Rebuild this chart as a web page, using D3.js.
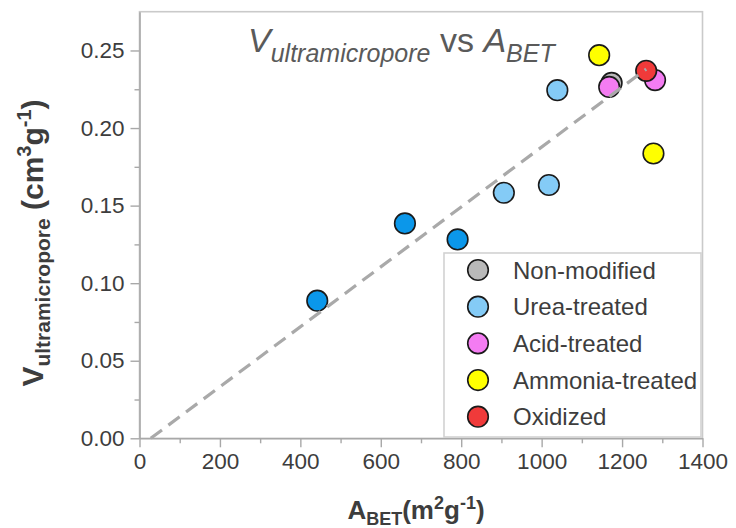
<!DOCTYPE html>
<html>
<head>
<meta charset="utf-8">
<script src="https://cdn.jsdelivr.net/npm/d3@7"></script>
<style>
  html, body { margin: 0; padding: 0; background: #fff; }
  svg { display: block; font-family: "Liberation Sans", Arial, Helvetica, sans-serif; }
</style>
</head>
<body>
<svg id="chart" width="736" height="528"></svg>
<script>
// Surface area (A_BET, m2/g) vs ultramicropore volume (cm3/g)
const groups = ["Non-modified", "Urea-treated", "Acid-treated", "Ammonia-treated", "Oxidized"];
const groupColors = ["#b9b9b9", "#84cbf6", "#f47cf2", "#ffff00", "#f03a3a"];

const ureaLowA = [442, 660, 791];
const ureaLowV = [0.0887, 0.1385, 0.1282];
const ureaLowColor = "#0b97ea";

const nonModifiedA = [1174];
const nonModifiedV = [0.2291];
const ureaA = [906, 1018, 1039];
const ureaV = [0.1583, 0.1633, 0.2244];
const acidA = [1168, 1282];
const acidV = [0.2265, 0.2309];
const ammoniaA = [1143, 1278];
const ammoniaV = [0.2470, 0.1836];
const oxidizedA = [1260];
const oxidizedV = [0.2369];

const trendA = [28, 1260];
const trendV = [0, 0.2380];

const xTicks = [0, 200, 400, 600, 800, 1000, 1200, 1400];
const yTicks = [0, 0.05, 0.10, 0.15, 0.20, 0.25];

const svg = d3.select("#chart");
const plot = { left: 139.5, right: 702.5, top: 11.7, bottom: 438.3 };

const x = d3.scaleLinear().domain([0, 1400]).range([plot.left, plot.right]);
const y = d3.scaleLinear().domain([0, 0.275]).range([plot.bottom, plot.top]);

const axisColor = "#a8a8a8";
const textColor = "#3d3d3d";

// plot frame
svg.append("rect")
  .attr("x", plot.left).attr("y", plot.top)
  .attr("width", plot.right - plot.left).attr("height", plot.bottom - plot.top)
  .attr("fill", "none").attr("stroke", "#cacaca").attr("stroke-width", 1.6);

// minor ticks
const xMinor = d3.range(100, 1400, 200);
const yMinor = d3.range(0.025, 0.275, 0.05);
svg.append("g").attr("transform", `translate(0,${plot.bottom})`)
  .call(d3.axisBottom(x).tickValues(xMinor).tickSize(5).tickFormat(""))
  .call(g => g.select(".domain").remove())
  .call(g => g.selectAll("line").attr("stroke", axisColor).attr("stroke-width", 1.4));
svg.append("g").attr("transform", `translate(${plot.left},0)`)
  .call(d3.axisLeft(y).tickValues(yMinor).tickSize(5).tickFormat(""))
  .call(g => g.select(".domain").remove())
  .call(g => g.selectAll("line").attr("stroke", axisColor).attr("stroke-width", 1.4));

// major axes
const xAxis = svg.append("g").attr("transform", `translate(0,${plot.bottom})`)
  .call(d3.axisBottom(x).tickValues(xTicks).tickSize(9).tickPadding(6).tickSizeOuter(0).tickFormat(d3.format("d")));
const yAxis = svg.append("g").attr("transform", `translate(${plot.left},0)`)
  .call(d3.axisLeft(y).tickValues(yTicks).tickSize(9).tickPadding(6).tickSizeOuter(0).tickFormat(d3.format(".2f")));
[xAxis, yAxis].forEach(g => {
  g.select(".domain").attr("stroke", axisColor).attr("stroke-width", 1.6);
  g.selectAll(".tick line").attr("stroke", axisColor).attr("stroke-width", 1.4);
  g.selectAll(".tick text").attr("fill", textColor).attr("font-size", 22.5)
    .attr("font-family", "Liberation Sans, Arial, sans-serif");
});

// scatter points, drawn back to front
const series = [
  { a: ureaLowA, v: ureaLowV, color: ureaLowColor },
  { a: ureaA, v: ureaV, color: groupColors[1] },
  { a: ammoniaA, v: ammoniaV, color: groupColors[3] },
  { a: nonModifiedA, v: nonModifiedV, color: groupColors[0] },
  { a: acidA, v: acidV, color: groupColors[2] },
  { a: oxidizedA, v: oxidizedV, color: groupColors[4] }
];
const r = 10.3;
series.forEach(s => {
  svg.append("g").selectAll("circle")
    .data(s.a.map((a, i) => ({ a, v: s.v[i] })))
    .join("circle")
    .attr("cx", d => x(d.a)).attr("cy", d => y(d.v)).attr("r", r)
    .attr("fill", s.color).attr("stroke", "#1a1a1a").attr("stroke-width", 1.6);
});

// linear guide
svg.append("path")
  .datum(trendA.map((a, i) => [a, trendV[i]]))
  .attr("d", d3.line().x(d => x(d[0])).y(d => y(d[1])))
  .attr("fill", "none").attr("stroke", "#a9a9a9").attr("stroke-width", 3.2)
  .attr("stroke-dasharray", "14,8");

// legend
const legend = svg.append("g");
legend.append("rect")
  .attr("x", 444).attr("y", 253).attr("width", 257).attr("height", 184)
  .attr("fill", "#fff").attr("stroke", "#d2d2d2").attr("stroke-width", 1.6);
const rowY = d3.scalePoint().domain(groups).range([270, 416.7]);
groups.forEach((gname, i) => {
  legend.append("circle")
    .attr("cx", 478).attr("cy", rowY(gname)).attr("r", r)
    .attr("fill", groupColors[i]).attr("stroke", "#1a1a1a").attr("stroke-width", 1.6);
  legend.append("text")
    .attr("x", 513).attr("y", rowY(gname)).attr("dy", "0.36em")
    .attr("font-size", 24).attr("fill", textColor).text(gname);
});

// title
const title = svg.append("text").attr("x", 248).attr("y", 52)
  .attr("fill", "#5a5a5a").attr("font-size", 34);
title.append("tspan").attr("font-style", "italic").text("V");
title.append("tspan").attr("font-style", "italic").attr("font-size", 25)
  .attr("dy", 10).text("ultramicropore");
title.append("tspan").attr("dy", -10).text(" vs ");
title.append("tspan").attr("font-style", "italic").text("A");
title.append("tspan").attr("font-style", "italic").attr("font-size", 25)
  .attr("dy", 10).text("BET");

// x-axis label
const xl = svg.append("text").attr("x", 416).attr("y", 519)
  .attr("text-anchor", "middle").attr("font-weight", "bold")
  .attr("fill", textColor).attr("font-size", 26);
xl.append("tspan").text("A");
xl.append("tspan").attr("font-size", 18).attr("dy", 6).text("BET");
xl.append("tspan").attr("dy", -6).text("(m");
xl.append("tspan").attr("font-size", 18).attr("dy", -10).text("2");
xl.append("tspan").attr("dy", 10).text("g");
xl.append("tspan").attr("font-size", 18).attr("dy", -10).text("-1");
xl.append("tspan").attr("dy", 10).text(")");

// y-axis label
const yl = svg.append("text")
  .attr("transform", "translate(43,243) rotate(-90)")
  .attr("text-anchor", "middle").attr("font-weight", "bold")
  .attr("fill", textColor).attr("font-size", 30);
yl.append("tspan").text("V");
yl.append("tspan").attr("font-size", 21).attr("dy", 7).text("ultramicropore");
yl.append("tspan").attr("dy", -7).text(" (cm");
yl.append("tspan").attr("font-size", 20).attr("dy", -12).text("3");
yl.append("tspan").attr("dy", 12).text("g");
yl.append("tspan").attr("font-size", 20).attr("dy", -12).text("-1");
yl.append("tspan").attr("dy", 12).text(")");
</script>
</body>
</html>
